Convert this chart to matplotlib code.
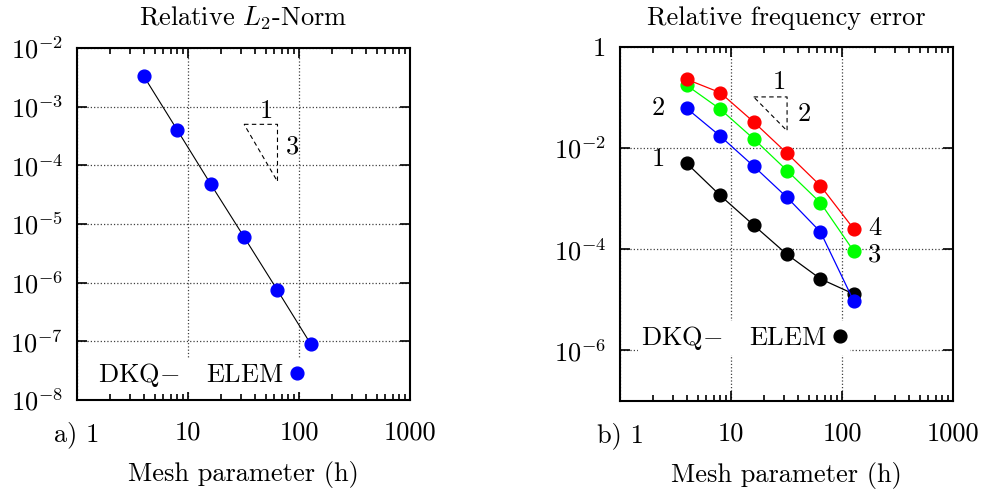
import numpy as np
import matplotlib.pyplot as plt
from matplotlib.lines import Line2D
from matplotlib.ticker import LogLocator, NullFormatter

plt.rcParams['font.family'] = ['cmr10', 'DejaVu Serif']
plt.rcParams['mathtext.fontset'] = 'cm'
plt.rcParams['axes.formatter.use_mathtext'] = True

# mesh parameter
h = [4, 8, 16, 32, 64, 128]

# a) relative L2 norm
l2_norm = [3.3e-3, 4.0e-4, 4.8e-5, 6.0e-6, 7.4e-7, 8.9e-8]

# b) relative frequency error, modes 1..4
freq_mode1 = [5.0e-3, 1.16e-3, 3.0e-4, 7.9e-5, 2.6e-5, 1.3e-5]
freq_mode2 = [6.1e-2, 1.73e-2, 4.4e-3, 1.06e-3, 2.2e-4, 9.3e-6]
freq_mode3 = [0.174, 5.9e-2, 1.53e-2, 3.6e-3, 8.3e-4, 9.1e-5]
freq_mode4 = [0.229, 0.125, 3.3e-2, 7.9e-3, 1.8e-3, 2.5e-4]

# slope triangles
tri_a_x = [32, 64, 64, 32]
tri_a_y = [5.0e-4, 5.0e-4, 5.3e-5, 5.0e-4]
tri_b_x = [16, 32, 32, 16]
tri_b_y = [0.103, 0.103, 0.022, 0.103]

x_ticks = [1, 10, 100, 1000]
FS = 19
MS = 9.2


def style_axis(ax, xlabels, yticks, ylabels, ylim, ysubs):
    ax.set_xscale('log')
    ax.set_yscale('log')
    ax.set_xlim(1, 1000)
    ax.set_ylim(*ylim)
    ax.set_xticks(x_ticks, xlabels)
    ax.set_yticks(yticks, ylabels)
    ax.xaxis.set_minor_locator(LogLocator(base=10, subs=np.arange(2, 10)))
    ax.xaxis.set_minor_formatter(NullFormatter())
    if ysubs is None:
        ax.yaxis.set_minor_locator(plt.NullLocator())
    else:
        ax.yaxis.set_minor_locator(LogLocator(base=10, subs=ysubs))
    ax.yaxis.set_minor_formatter(NullFormatter())
    ax.tick_params(which='both', direction='in', top=True, right=True,
                   labelsize=FS, width=1.2)
    ax.tick_params(which='major', length=7)
    ax.tick_params(which='minor', length=4)
    ax.tick_params(axis='x', pad=15)
    ax.tick_params(axis='y', pad=10)
    for s in ax.spines.values():
        s.set_linewidth(1.5)
    ax.grid(True, which='major', linestyle=':', color='0.25', linewidth=0.9)
    ax.set_xlabel('Mesh parameter (h)', fontsize=FS, labelpad=10)


def add_key(ax, color, anchor):
    handle = Line2D([], [], marker='o', ls='none', color=color, ms=MS)
    leg = ax.legend([handle], [r'DKQ$-$   ELEM'], markerfirst=False,
                    fontsize=FS, loc='center right', bbox_to_anchor=anchor,
                    frameon=True, facecolor='white', edgecolor='none',
                    framealpha=1, handletextpad=0.2, handlelength=0.6,
                    borderpad=0.1, borderaxespad=0, fancybox=False)
    # above the grid, below the data, spines and ticks
    leg.set_zorder(1.8)


fig = plt.figure(figsize=(9.86, 4.98), dpi=100)
ax1 = fig.add_axes([77 / 986, 98 / 498, 333 / 986, 352 / 498])
ax2 = fig.add_axes([620 / 986, 97 / 498, 333 / 986, 354 / 498])

# panel a
ax1.plot(h, l2_norm, '-o', color='black', lw=0.8, mfc='blue', mec='blue', ms=MS)
ax1.plot(tri_a_x, tri_a_y, '--', color='black', lw=0.8, dashes=(4, 3))
ax1.text(51, 8.4e-4, '1', fontsize=FS, ha='center', va='center')
ax1.text(88, 2.06e-4, '3', fontsize=FS, ha='center', va='center')
style_axis(ax1, ['a) 1', '10', '100', '1000'],
           [1e-8, 1e-7, 1e-6, 1e-5, 1e-4, 1e-3, 1e-2],
           [r'$10^{-8}$', r'$10^{-7}$', r'$10^{-6}$', r'$10^{-5}$',
            r'$10^{-4}$', r'$10^{-3}$', r'$10^{-2}$'],
           (1e-8, 1e-2), [2, 5, 8])
ax1.set_title('Relative $L_2$-Norm', fontsize=FS, pad=16)
add_key(ax1, 'blue', (0.692, 0.071))

# panel b
for vals, c in [(freq_mode1, 'black'), (freq_mode2, 'blue'),
                (freq_mode3, '#00ff00'), (freq_mode4, 'red')]:
    ax2.plot(h, vals, '-o', color=c, lw=0.9, ms=MS)
ax2.plot(tri_b_x, tri_b_y, '--', color='black', lw=0.8, dashes=(4, 3))
ax2.text(27, 0.2, '1', fontsize=FS, ha='center', va='center')
ax2.text(45.5, 0.048, '2', fontsize=FS, ha='center', va='center')
ax2.text(2.2, 0.061, '2', fontsize=FS, ha='center', va='center')
ax2.text(2.2, 6.0e-3, '1', fontsize=FS, ha='center', va='center')
ax2.text(198, 2.6e-4, '4', fontsize=FS, ha='center', va='center')
ax2.text(198, 7.9e-5, '3', fontsize=FS, ha='center', va='center')
style_axis(ax2, ['b) 1', '10', '100', '1000'],
           [1e-6, 1e-4, 1e-2, 1],
           [r'$10^{-6}$', r'$10^{-4}$', r'$10^{-2}$', '1'],
           (1e-7, 1), None)
ax2.set_title('Relative frequency error', fontsize=FS, pad=16)
add_key(ax2, 'black', (0.692, 0.178))

fig.savefig('out.png', dpi=100)
